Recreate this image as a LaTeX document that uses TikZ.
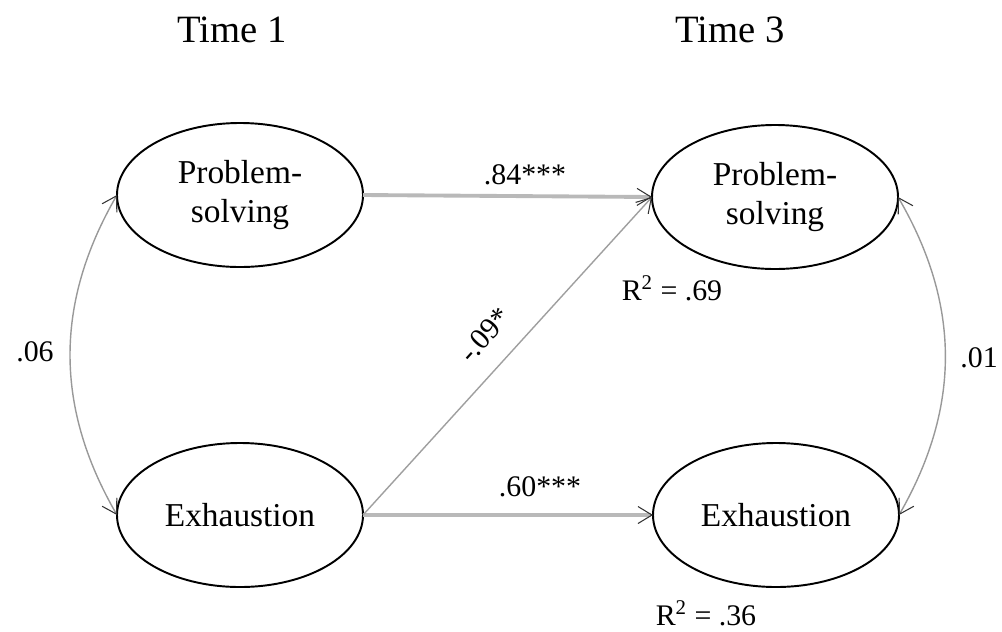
\documentclass[tikz,border=0pt]{standalone}
\usepackage{fontspec}
\setmainfont{Liberation Serif}
\usetikzlibrary{arrows.meta}
\usetikzlibrary{shapes.geometric}

\begin{document}
\begin{tikzpicture}[x=0.2mm,y=-0.2mm,
        >={Straight Barb[length=2.8mm,width=3.4mm,line width=0.6pt,color=black!80]},
        latent/.style={draw,ellipse,line width=1.1pt,minimum width=4.92cm,minimum height=2.88cm,
            inner sep=0pt,outer sep=0pt,align=center,font=\fontsize{19}{22.5}\selectfont},
        regr/.style={->,draw=gray!55,line width=2.2pt},
        thinregr/.style={->,draw=gray!75,line width=0.8pt},
        cov/.style={<->,draw=gray!80,line width=0.8pt},
        coef/.style={font=\fontsize{17}{20}\selectfont},
        wave/.style={font=\fontsize{22}{26}\selectfont}]
        \useasboundingbox (0,0) rectangle (1002,631);
        % waves
        \node[wave] (t1) at (232,30) {Time 1};
        \node[wave] (t3) at (730,30) {Time 3};
        % latent variables
        \node[latent] (ps1) at (240,195) {Problem-\\solving};
        \node[latent] (ex1) at (240,515) {Exhaustion};
        \node[latent] (ps3) at (775,197) {Problem-\\solving};
        \node[latent] (ex3) at (776,515) {Exhaustion};
        % paths
        \draw[regr] (ps1.east) -- (ps3.west);
        \draw[regr] (ex1.east) -- (ex3.west);
        \draw[thinregr] (ex1.east) -- (ps3.west)
            node[coef,midway,sloped,above=8pt] (b21) {-.09*};
        \draw[cov] (ps1.west) to[bend right=30] (ex1.west);
        \draw[cov] (ps3.east) to[bend left=30] (ex3.east);
        % coefficients
        \node[coef] (b11) at (525,175) {.84***};
        \node[coef] (b22) at (540,487) {.60***};
        \node[coef] (r1) at (35,352) {.06};
        \node[coef] (r3) at (979,358) {.01};
        \node[coef] (rsq1) at (672,288) {R\textsuperscript{2} = .69};
        \node[coef] (rsq2) at (706,613) {R\textsuperscript{2} = .36};
    \end{tikzpicture}
\end{document}
